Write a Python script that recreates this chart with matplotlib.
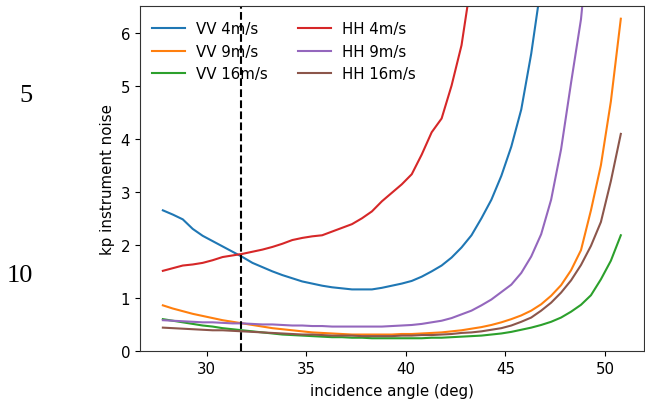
import matplotlib
matplotlib.use("Agg")
import matplotlib.pyplot as plt

# incidence angle grid (deg)
angle = [27.8, 28.3, 28.8, 29.3, 29.8, 30.3, 30.8, 31.3, 31.8, 32.3,
         32.8, 33.3, 33.8, 34.3, 34.8, 35.3, 35.8, 36.3, 36.8, 37.3,
         37.8, 38.3, 38.8, 39.3, 39.8, 40.3, 40.8, 41.3, 41.8, 42.3,
         42.8, 43.3, 43.8, 44.3, 44.8, 45.3, 45.8, 46.3, 46.8, 47.3,
         47.8, 48.3, 48.8, 49.3, 49.8, 50.3, 50.8]

vv4 = [2.65, 2.57, 2.48, 2.30, 2.17, 2.07, 1.97, 1.87, 1.77, 1.66,
       1.58, 1.50, 1.43, 1.37, 1.31, 1.27, 1.23, 1.20, 1.18, 1.16,
       1.16, 1.16, 1.19, 1.23, 1.27, 1.32, 1.40, 1.50, 1.61, 1.76,
       1.95, 2.18, 2.50, 2.85, 3.30, 3.85, 4.55, 5.60, 6.90, 8.50,
       10.5, 13.0, 16.0, 20.0, 25.0, 31.0, 38.0]

vv9 = [0.86, 0.80, 0.75, 0.70, 0.66, 0.62, 0.58, 0.55, 0.52, 0.49,
       0.46, 0.43, 0.41, 0.39, 0.37, 0.35, 0.34, 0.33, 0.32, 0.31,
       0.31, 0.31, 0.31, 0.31, 0.32, 0.32, 0.33, 0.34, 0.35, 0.37,
       0.39, 0.42, 0.45, 0.49, 0.54, 0.60, 0.67, 0.76, 0.88, 1.04,
       1.24, 1.52, 1.90, 2.65, 3.50, 4.70, 6.26]

vv16 = [0.60, 0.57, 0.54, 0.51, 0.48, 0.46, 0.43, 0.41, 0.39, 0.37,
        0.35, 0.33, 0.31, 0.30, 0.29, 0.28, 0.27, 0.26, 0.26, 0.25,
        0.25, 0.24, 0.24, 0.24, 0.24, 0.24, 0.24, 0.25, 0.25, 0.26,
        0.27, 0.28, 0.29, 0.31, 0.33, 0.36, 0.40, 0.44, 0.49, 0.55,
        0.63, 0.74, 0.87, 1.05, 1.35, 1.70, 2.18]

hh4 = [1.51, 1.56, 1.61, 1.63, 1.66, 1.71, 1.77, 1.80, 1.83, 1.87,
       1.91, 1.96, 2.02, 2.09, 2.13, 2.16, 2.18, 2.25, 2.32, 2.39,
       2.50, 2.63, 2.82, 2.98, 3.14, 3.33, 3.70, 4.12, 4.38, 5.00,
       5.76, 7.00, 8.50, 10.0, 12.0, 14.5, 17.5, 21.0, 25.0, 30.0,
       36.0, 43.0, 51.0, 60.0, 70.0, 82.0, 96.0]

hh9 = [0.58, 0.57, 0.56, 0.55, 0.54, 0.54, 0.53, 0.52, 0.52, 0.51,
       0.50, 0.50, 0.49, 0.48, 0.48, 0.47, 0.47, 0.46, 0.46, 0.46,
       0.46, 0.46, 0.46, 0.47, 0.48, 0.49, 0.51, 0.54, 0.57, 0.62,
       0.69, 0.76, 0.86, 0.97, 1.11, 1.25, 1.47, 1.78, 2.20, 2.85,
       3.80, 5.05, 6.25, 8.20, 10.5, 13.5, 17.0]

hh16 = [0.44, 0.43, 0.42, 0.41, 0.40, 0.39, 0.39, 0.38, 0.37, 0.36,
        0.35, 0.34, 0.33, 0.32, 0.31, 0.31, 0.30, 0.29, 0.29, 0.29,
        0.28, 0.28, 0.28, 0.28, 0.29, 0.29, 0.30, 0.30, 0.31, 0.32,
        0.34, 0.35, 0.37, 0.40, 0.43, 0.48, 0.55, 0.63, 0.76, 0.91,
        1.10, 1.33, 1.62, 1.98, 2.43, 3.20, 4.09]

series = [("VV 4m/s", vv4, "#1f77b4"), ("VV 9m/s", vv9, "#ff7f0e"),
          ("VV 16m/s", vv16, "#2ca02c"), ("HH 4m/s", hh4, "#d62728"),
          ("HH 9m/s", hh9, "#9467bd"), ("HH 16m/s", hh16, "#8c564b")]

cutoff_angle = 31.7
line_numbers = ["5", "10"]

FS = 10.8

fig = plt.figure(figsize=(6.45, 4.10), dpi=100)
ax = fig.add_axes([0.217, 0.1415, 0.781, 0.8415])

for label, vals, col in series:
    ax.plot(angle, vals, color=col, lw=1.5, label=label)

ax.axvline(cutoff_angle, color="k", ls="--", lw=1.5)

ax.set_xlim(26.65, 51.95)
ax.set_ylim(0, 6.5)
ax.set_xticks([30, 35, 40, 45, 50])
ax.set_yticks([0, 1, 2, 3, 4, 5, 6])
ax.set_xlabel("incidence angle (deg)", fontsize=FS, labelpad=5)
ax.set_ylabel("kp instrument noise", fontsize=FS, labelpad=4)
ax.tick_params(labelsize=FS)
for s in ax.spines.values():
    s.set_color("#333333")

ax.legend(loc="upper left", bbox_to_anchor=(0.012, 0.973), borderaxespad=0,
          ncol=2, frameon=False, fontsize=FS,
          handlelength=2.2, handletextpad=0.75, columnspacing=2.0,
          labelspacing=0.5)

fig.text(26 / 645, 1 - 96 / 410, line_numbers[0], family="Liberation Serif",
         fontsize=19, ha="center", va="center")
fig.text(20 / 645, 1 - 276 / 410, line_numbers[1], family="Liberation Serif",
         fontsize=19, ha="center", va="center")

fig.savefig("out.png", dpi=100)
